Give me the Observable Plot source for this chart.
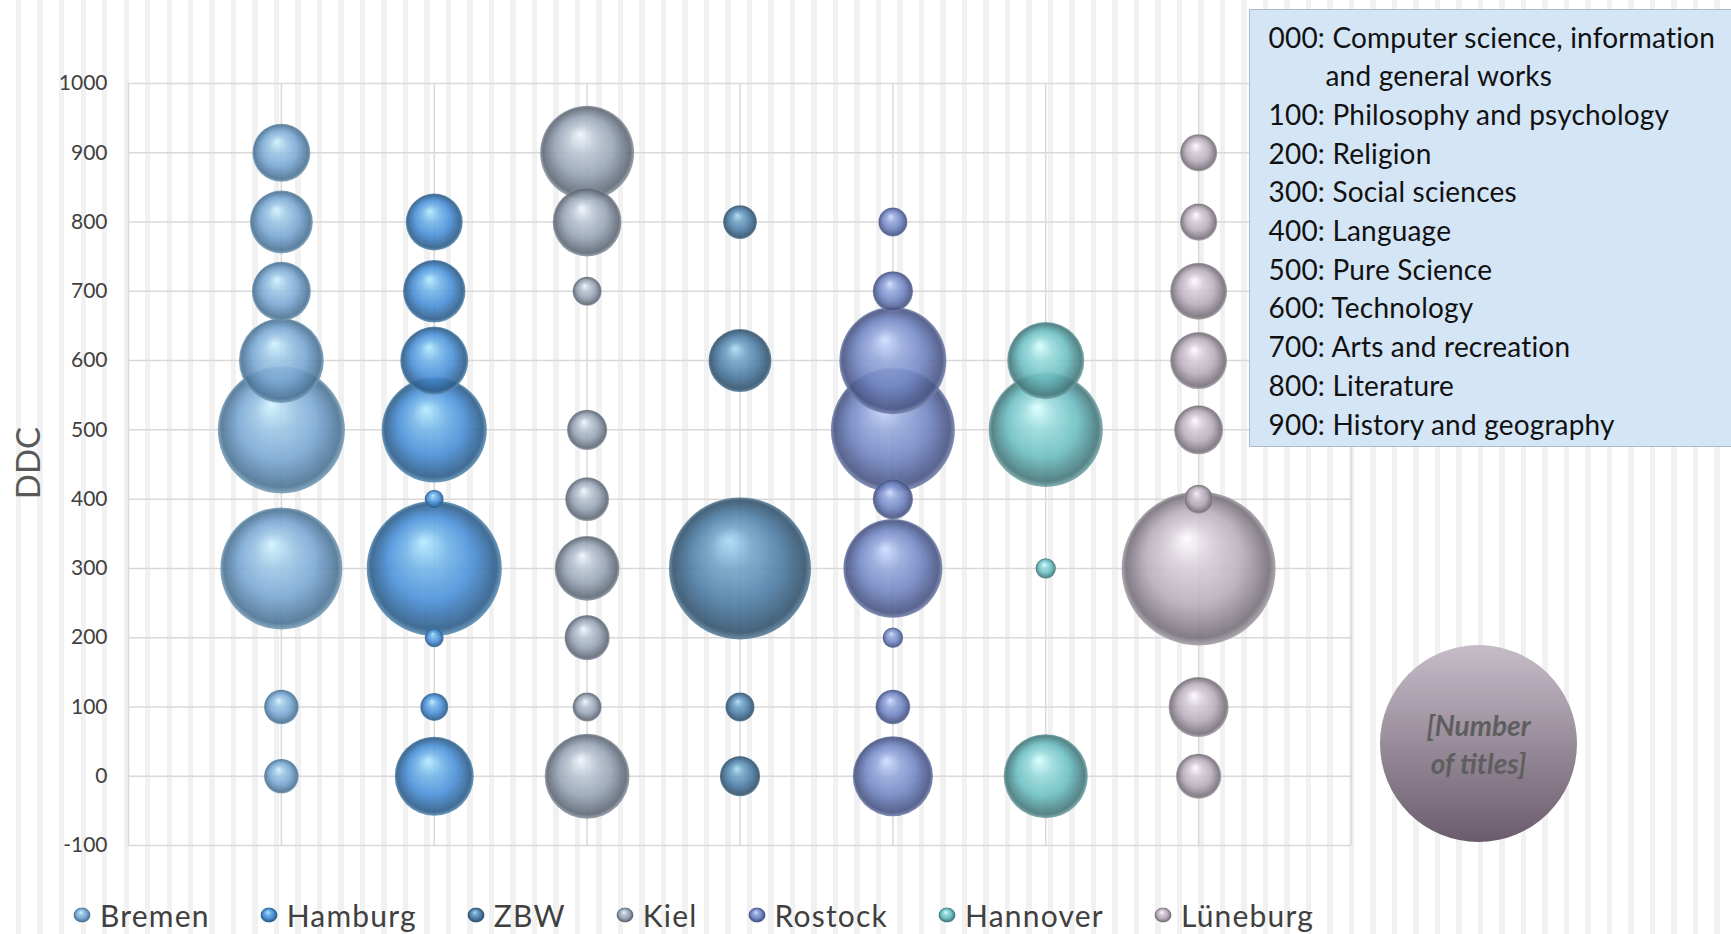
<!DOCTYPE html>
<html>
<head>
<meta charset="utf-8">
<script src="https://cdn.jsdelivr.net/npm/d3@7"></script>
<script src="https://cdn.jsdelivr.net/npm/@observablehq/plot@0.6"></script>
<style>
  html, body { margin: 0; padding: 0; }
  body {
    width: 1731px; height: 934px; overflow: hidden; position: relative;
    font-family: Lato, "Noto Sans", sans-serif;
    background: #fff repeating-linear-gradient(90deg, #fff 0px, #fff 16px, #f1f1f1 16px, #f1f1f1 21.5px);
  }
  #chart svg { display: block; }
  #ylabel {
    position: absolute; left: 27px; top: 463px;
    transform: translate(-50%, -50%) rotate(-90deg);
    font-size: 33px; color: #595959; white-space: nowrap;
  }
  #keybox {
    position: absolute; left: 1249px; top: 9px; width: 520px; height: 438px;
    box-sizing: border-box; background: #d4e5f6; border: 1.5px solid #a9bccf;
    padding: 7.5px 0 0 18.5px; font-size: 28px; color: #111; line-height: 38.7px;
    letter-spacing: 0.2px;
  }
  #keybox .indent { padding-left: 57px; }
  #sizekey {
    position: absolute; left: 1380px; top: 645px; width: 197px; height: 197px;
    border-radius: 50%; background: linear-gradient(#c6bcc8, #6b5c6c);
    display: flex; flex-direction: column; align-items: center; justify-content: center;
    font-size: 28px; font-weight: bold; font-style: italic; color: #5e5e5e; line-height: 38px;
  }
  #legend {
    position: absolute; left: 73px; top: 895px; height: 39px;
    display: flex; align-items: center; font-size: 30px; color: #404040; letter-spacing: 1.2px;
  }
  #legend .item { display: flex; align-items: center; margin-right: 50px; }
  #legend svg { margin-right: 9px; }
</style>
</head>
<body>
<svg width="0" height="0" style="position:absolute" id="defs"><defs></defs></svg>
<div id="chart"></div>
<div id="ylabel">DDC</div>
<div id="keybox"></div>
<div id="sizekey"><div>[Number</div><div>of titles]</div></div>
<div id="legend"></div>
<script>
// DDC classes (y categories)
const ddc = [0, 100, 200, 300, 400, 500, 600, 700, 800, 900];
const ddcNames = [
  "Computer science, information and general works",
  "Philosophy and psychology",
  "Religion",
  "Social sciences",
  "Language",
  "Pure Science",
  "Technology",
  "Arts and recreation",
  "Literature",
  "History and geography"
];
// Libraries (legend order) and their column on the x axis
const libraries = ["Bremen", "Hamburg", "ZBW", "Kiel", "Rostock", "Hannover", "Lüneburg"];
const columns   = [1, 2, 4, 3, 5, 6, 7];
// Number of titles per DDC class, in ddc order
const bremen    = [20, 20, null, 248, null, 269, 120, 58, 66, 56];
const hamburg   = [104, 13, 6, 304, 6, 184, 77, 65, 54, null];
const zbw       = [27, 14, null, 336, null, null, 66, null, 19, null];
const kiel      = [120, 14, 34, 70, 32, 27, null, 14, 79, 147];
const rostock   = [107, 20, 7, 163, 27, 256, 191, 27, 14, null];
const hannover  = [118, null, null, 7, null, 217, 99, null, null, null];
const lueneburg = [34, 60, null, 395, 14, 40, 54, 54, 23, 23];
const series = [bremen, hamburg, zbw, kiel, rostock, hannover, lueneburg];

// Colours: [highlight, base, shadow]
const palette = [
  ["#d2f3ff", "#7aa8d4", "#4c7394"],
  ["#b4ecff", "#4a90d9", "#2d5d8a"],
  ["#a9dcf5", "#4f7fa8", "#33536d"],
  ["#f0f6fd", "#97a4b6", "#5f6875"],
  ["#cddcff", "#7287c4", "#485483"],
  ["#d8ffff", "#6cbfc3", "#44777b"],
  ["#fffaff", "#b9aebc", "#77707a"]
];

// gradient defs
const defs = d3.select("#defs defs");
palette.forEach(([hi, base, dark], i) => {
  const g = defs.append("radialGradient").attr("id", "g" + i)
    .attr("cx", 0.5).attr("cy", 0.5).attr("r", 0.5).attr("fx", 0.42).attr("fy", 0.3);
  g.append("stop").attr("offset", "0%").attr("stop-color", hi);
  g.append("stop").attr("offset", "30%").attr("stop-color", d3.interpolateRgb(hi, base)(0.6));
  g.append("stop").attr("offset", "62%").attr("stop-color", base);
  g.append("stop").attr("offset", "93%").attr("stop-color", dark);
  g.append("stop").attr("offset", "100%").attr("stop-color", d3.interpolateRgb(dark, hi)(0.35));
});

const rows = libraries.map((lib, i) =>
  ddc.map((k, j) => ({library: lib, x: columns[i], ddc: k, titles: series[i][j]}))
     .filter(d => d.titles != null)
     .sort((a, b) => b.titles - a.titles)
);

const yTicks = d3.range(-100, 1001, 100);
const xGrid = d3.range(0, libraries.length + 2);

const chart = Plot.plot({
  width: 1731,
  height: 895,
  marginLeft: 128,
  marginRight: 380,
  marginTop: 83,
  marginBottom: 50,
  style: {background: "transparent", fontSize: "21px", fontFamily: "Lato, 'Noto Sans', sans-serif", color: "#404040"},
  x: {domain: [0, libraries.length + 1], axis: null},
  y: {domain: [-100, 1000], ticks: 11, tickSize: 0, tickPadding: 21, tickFormat: d => String(d), label: null},
  r: {type: "sqrt", domain: [0, 395], range: [0, 77]},
  marks: [
    Plot.ruleY(yTicks, {stroke: "#d9d9d9", strokeWidth: 1.5}),
    Plot.ruleX(xGrid, {stroke: "#d9d9d9", strokeWidth: 1.5}),
    ...rows.map((r, i) => Plot.dot(r, {x: "x", y: "ddc", r: "titles", fill: `url(#g${i})`, fillOpacity: 0.9}))
  ]
});
document.getElementById("chart").appendChild(chart);

// key box
const kb = document.getElementById("keybox");
ddc.forEach((k, j) => {
  const code = String(k).padStart(3, "0");
  if (j === 0) {
    kb.insertAdjacentHTML("beforeend", `<div>${code}: Computer science, information</div><div class="indent">and general works</div>`);
  } else {
    kb.insertAdjacentHTML("beforeend", `<div>${code}: ${ddcNames[j]}</div>`);
  }
});

// legend
const lg = d3.select("#legend");
libraries.forEach((lib, i) => {
  const it = lg.append("div").attr("class", "item");
  const s = it.append("svg").attr("width", 18).attr("height", 16);
  s.append("ellipse").attr("cx", 9).attr("cy", 8).attr("rx", 8.5).attr("ry", 7.5).attr("fill", `url(#g${i})`);
  it.append("span").text(lib);
});
</script>
</body>
</html>
